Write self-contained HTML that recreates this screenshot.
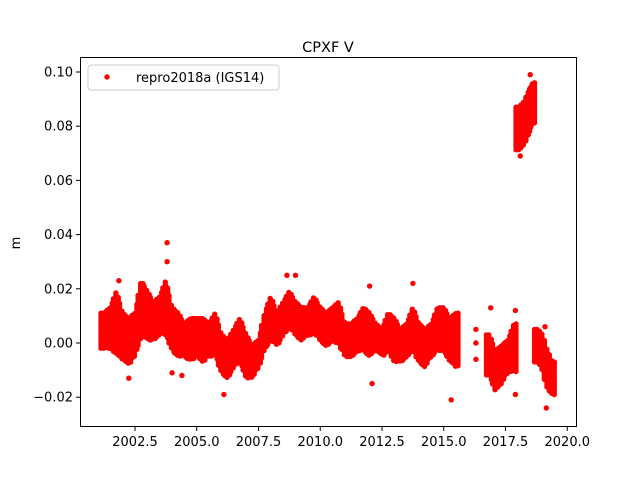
<!DOCTYPE html>
<html><head><meta charset="utf-8"><style>
body{margin:0;background:#fff;}
svg text{font-family:"DejaVu Sans","Liberation Sans",sans-serif;font-size:13px;fill:#000;}
</style></head><body>
<svg id="chart" width="640" height="480" xmlns="http://www.w3.org/2000/svg">
<rect width="640" height="480" fill="#fff"/>
<text x="328" y="52" text-anchor="middle" style="font-size:14.5px">CPXF V</text>
<text transform="translate(20,243) rotate(-90)" text-anchor="middle">m</text>
<g id="marks"></g>
<g id="axes"></g>
<rect x="80.5" y="57.5" width="496" height="369" fill="none" stroke="#000" stroke-width="1"/>
<g>
<rect x="88" y="65" width="191" height="25" rx="3" fill="#fff" fill-opacity="0.8" stroke="#ccc"/>
<circle cx="107" cy="77" r="2.7" fill="#f00"/>
<text x="136" y="82">repro2018a (IGS14)</text>
</g>
</svg>
<script>
const binYears=[2001.25,2001.5,2001.75,2002.0,2002.25,2002.5,2002.75,2003.0,2003.25,2003.5,2003.75,2004.0,2004.25,2004.5,2004.75,2005.0,2005.25,2005.5,2005.75,2006.0,2006.25,2006.5,2006.75,2007.0,2007.25,2007.5,2007.75,2008.0,2008.25,2008.5,2008.75,2009.0,2009.25,2009.5,2009.75,2010.0,2010.25,2010.5,2010.75,2011.0,2011.25,2011.5,2011.75,2012.0,2012.25,2012.5,2012.75,2013.0,2013.25,2013.5,2013.75,2014.0,2014.25,2014.5,2014.75,2015.0,2015.25,2015.5,2016.85,2017.1,2017.35,2017.6,2017.85,2018.05,2018.25,2018.45,2018.6,2018.8,2019.0,2019.2,2019.4];
const binLo=[-0.002,-0.002,-0.004,-0.006,-0.008,-0.005,0.002,0.001,0.001,0.003,0.003,-0.003,-0.005,-0.005,-0.007,-0.005,-0.007,-0.005,-0.005,-0.011,-0.013,-0.009,-0.007,-0.013,-0.013,-0.009,-0.003,0.001,-0.001,0.003,0.005,0.003,0.001,0.003,0.003,0.001,-0.001,0.001,-0.001,-0.005,-0.005,-0.003,-0.003,-0.005,-0.003,-0.005,-0.003,-0.007,-0.007,-0.005,-0.003,-0.007,-0.009,-0.005,-0.003,-0.003,-0.007,-0.009,-0.012,-0.018,-0.015,-0.011,-0.011,0.071,0.073,0.077,0.081,-0.007,-0.011,-0.017,-0.019];
const binHi=[0.011,0.013,0.019,0.011,0.009,0.011,0.023,0.019,0.015,0.017,0.023,0.013,0.011,0.007,0.009,0.009,0.009,0.007,0.011,0.003,0.001,0.005,0.009,0.003,-0.001,0.001,0.011,0.017,0.011,0.015,0.019,0.015,0.013,0.013,0.017,0.013,0.011,0.013,0.015,0.007,0.007,0.009,0.013,0.011,0.007,0.005,0.011,0.009,0.005,0.007,0.013,0.007,0.005,0.007,0.013,0.013,0.009,0.011,0.003,-0.003,-0.001,0.001,0.007,0.087,0.089,0.093,0.096,0.005,0.003,-0.003,-0.007];
const outX=[2003.8,2003.8,2002.25,2006.1,2015.3,2017.9,2019.15,2008.65,2009.0,2016.9,2017.9,2001.85,2004.0,2004.4,2012.1,2012.0,2013.75,2019.1,2016.3,2016.3,2016.3,2018.5,2018.1];
const outV=[0.037,0.030,-0.013,-0.019,-0.021,-0.019,-0.024,0.025,0.025,0.013,0.012,0.023,-0.011,-0.012,-0.015,0.021,0.022,0.006,0.005,0.000,-0.006,0.099,0.069];
const yTicks=[-0.02,0.00,0.02,0.04,0.06,0.08,0.10];
const xTicks=[2002.5,2005.0,2007.5,2010.0,2012.5,2015.0,2017.5,2020.0];
const sx=v=>135+(v-2002.5)*24.7;
const sy=v=>343-v*2710;
const NS='http://www.w3.org/2000/svg';
const marks=document.getElementById('marks'),axes=document.getElementById('axes');
function dot(x,y){const c=document.createElementNS(NS,'circle');
c.setAttribute('cx',x.toFixed(1));c.setAttribute('cy',y.toFixed(1));c.setAttribute('r','2.7');c.setAttribute('fill','#f00');


marks.appendChild(c);}
// group bins into contiguous segments and interpolate the envelope for drawing
const near=(a,b)=>Math.abs(binYears[a]-binYears[b])<0.3 && Math.abs(binLo[a]-binLo[b])<0.04;
for(let i=0;i<binYears.length;i++){
  const prev=i>0&&near(i,i-1), next=i<binYears.length-1&&near(i,i+1);
  const hw=0.125;
  const xs=binYears[i]-hw, xe=binYears[i]+hw;
  for(let yr=xs; yr<=xe; yr+=0.1){
    let lo=binLo[i],hi=binHi[i];
    if(yr<binYears[i]&&prev){const j=i-1,t=(binYears[i]-yr)/(binYears[i]-binYears[j]);lo=lo+(binLo[j]-lo)*t*0.9;hi=hi+(binHi[j]-hi)*t*0.9;}
    if(yr>binYears[i]&&next){const j=i+1,t=(yr-binYears[i])/(binYears[j]-binYears[i]);lo=lo+(binLo[j]-lo)*t*0.9;hi=hi+(binHi[j]-hi)*t*0.9;}
    const x=sx(yr), yTop=sy(hi), yBot=sy(lo);
    for(let y=yTop;y<=yBot;y+=2.5)dot(x,y);
  }
}
for(let i=0;i<outX.length;i++)dot(sx(outX[i]),sy(outV[i]));
yTicks.forEach(t=>{const y=sy(t);
 const l=document.createElementNS(NS,'line');l.setAttribute('x1',76);l.setAttribute('x2',80);l.setAttribute('y1',y);l.setAttribute('y2',y);l.setAttribute('stroke','#000');
 
 
 axes.appendChild(l);
 const tx=document.createElementNS(NS,'text');tx.setAttribute('x',73);tx.setAttribute('y',y+4.5);tx.setAttribute('text-anchor','end');tx.textContent=t.toFixed(2).replace('-','\u2212');
 
 
 axes.appendChild(tx);});
xTicks.forEach(t=>{const x=sx(t);
 const l=document.createElementNS(NS,'line');l.setAttribute('x1',x);l.setAttribute('x2',x);l.setAttribute('y1',427);l.setAttribute('y2',431);l.setAttribute('stroke','#000');
 
 
 axes.appendChild(l);
 const tx=document.createElementNS(NS,'text');tx.setAttribute('x',x);tx.setAttribute('y',446);tx.setAttribute('text-anchor','middle');tx.textContent=t.toFixed(1);
 
 
 axes.appendChild(tx);});
</script>
</body></html>
